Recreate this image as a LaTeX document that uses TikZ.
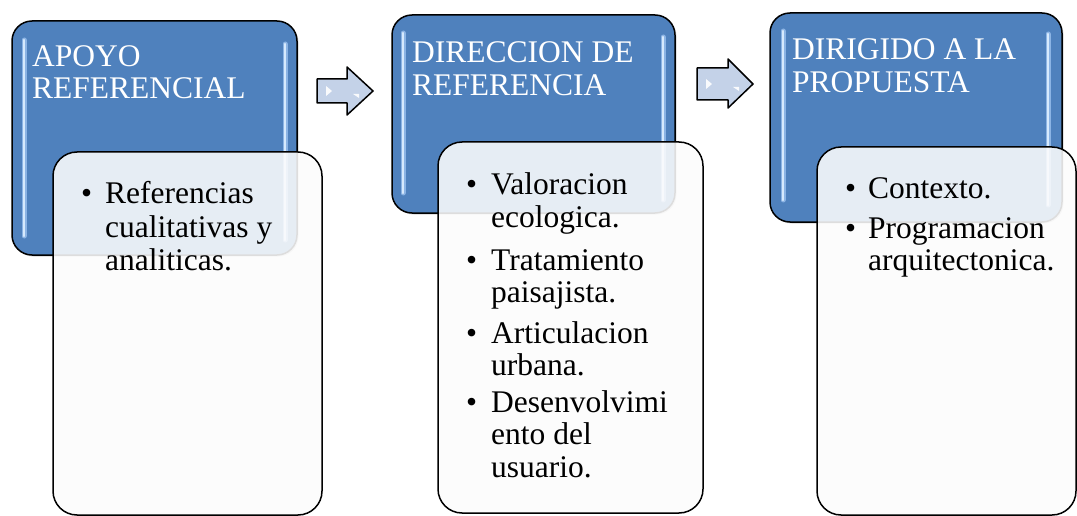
\documentclass[tikz,border=0pt]{standalone}
\usepackage{fontspec}
\setmainfont{Liberation Serif}
\usetikzlibrary{shadows}
\definecolor{hdrblue}{RGB}{79,129,189}
\definecolor{glosscol}{RGB}{215,234,253}
\definecolor{glosshalo}{RGB}{140,180,228}
\definecolor{arrowcol}{RGB}{196,210,232}
\definecolor{bodyfill}{RGB}{252,252,252}
\tikzset{
  hdr/.style={draw=black, line width=1.5pt, fill=hdrblue, rounded corners=20pt, inner sep=0,
    drop shadow={opacity=0.35, shadow xshift=1.5pt, shadow yshift=-1.5pt}},
  bodybox/.style={draw=black, line width=1.5pt, fill=bodyfill, fill opacity=0.88, draw opacity=1, rounded corners=24pt, inner sep=0},
  glosshalo/.style={draw=glosshalo, line width=5pt, line cap=round},
  gloss/.style={draw=glosscol, line width=2.5pt, line cap=round},
  ttl/.style={anchor=base west, text=white, font=\fontsize{31.5}{32}\selectfont, inner sep=0},
  txt/.style={anchor=base west, text=black, font=\fontsize{31.5}{32}\selectfont, inner sep=0},
  blk/.style={draw=black, line width=1.5pt, fill=arrowcol, line join=round},
  hilite/.style={fill=white, draw=none, opacity=0.9}
}
\begin{document}
\begin{tikzpicture}[x=1pt, y=-1pt]
\useasboundingbox (0,0) rectangle (1077,516);
\fill[white] (0,0) rectangle (1077,516);

% ---------- column 1 ----------
\node[hdr, minimum width=285pt, minimum height=234pt] (h1) at (154.5,138) {};
\draw[glosshalo] (24,40) -- (24,236);
\draw[gloss] (24,40) -- (24,236);
\draw[glosshalo] (285,44) -- (285,240);
\draw[gloss] (285,44) -- (285,240);
\node[ttl] (t1a) at (32,67) {APOYO};
\node[ttl] (t1b) at (32,99) {REFERENCIAL};
\node[bodybox, minimum width=269pt, minimum height=363pt] (b1) at (187.5,333.5) {};
\node[txt] (b1d1) at (81,204) {•};
\node[txt] (b1l1) at (105,204) {Referencias};
\node[txt] (b1l2) at (105,237) {cualitativas y};
\node[txt] (b1l3) at (105,270) {analiticas.};

% ---------- column 2 ----------
\node[hdr, minimum width=283pt, minimum height=198pt] (h2) at (533.5,114) {};
\draw[glosshalo] (403,33) -- (403,193);
\draw[gloss] (403,33) -- (403,193);
\draw[glosshalo] (663,37) -- (663,200);
\draw[gloss] (663,37) -- (663,200);
\node[ttl] (t2a) at (412,63) {DIRECCION DE};
\node[ttl] (t2b) at (412,96) {REFERENCIA};
\node[bodybox, minimum width=265pt, minimum height=371pt] (b2) at (570.5,327.5) {};
\node[txt] (b2d1) at (466,195) {•};
\node[txt] (b2l1) at (491,195) {Valoracion};
\node[txt] (b2l2) at (491,227) {ecologica.};
\node[txt] (b2d2) at (466,270) {•};
\node[txt] (b2l3) at (491,270) {Tratamiento};
\node[txt] (b2l4) at (491,302) {paisajista.};
\node[txt] (b2d3) at (466,343) {•};
\node[txt] (b2l5) at (491,343) {Articulacion};
\node[txt] (b2l6) at (491,375) {urbana.};
\node[txt] (b2d4) at (466,412) {•};
\node[txt] (b2l7) at (491,412) {Desenvolvimi};
\node[txt] (b2l8) at (491,444) {ento del};
\node[txt] (b2l9) at (491,477) {usuario.};

% ---------- column 3 ----------
\node[hdr, minimum width=292pt, minimum height=209pt] (h3) at (916,117.5) {};
\draw[glosshalo] (783,31) -- (783,200);
\draw[gloss] (783,31) -- (783,200);
\draw[glosshalo] (1048,34) -- (1048,205);
\draw[gloss] (1048,34) -- (1048,205);
\node[ttl] (t3a) at (792,60) {DIRIGIDO A LA};
\node[ttl] (t3b) at (792,93) {PROPUESTA};
\node[bodybox, minimum width=259pt, minimum height=368pt] (b3) at (946.5,331) {};
\node[txt] (b3d1) at (845,199) {•};
\node[txt] (b3l1) at (868,199) {Contexto.};
\node[txt] (b3d2) at (845,238) {•};
\node[txt] (b3l2) at (868,238) {Programacion};
\node[txt] (b3l3) at (868,270) {arquitectonica.};

% ---------- block arrows ----------
\draw[blk] (317,79) -- (347,79) -- (347,67) -- (373,91) -- (347,115) -- (347,103) -- (317,103) -- cycle;
\fill[hilite] (326,86) -- (332,91) -- (326,96) -- cycle;
\fill[hilite] (353,94) -- (359,94) -- (359,98) -- cycle;
\draw[blk] (697,68) -- (728,68) -- (728,59) -- (753,84) -- (728,108) -- (728,100) -- (697,100) -- cycle;
\fill[hilite] (706,79) -- (712,84) -- (706,89) -- cycle;
\fill[hilite] (733,87) -- (739,87) -- (739,91) -- cycle;
\end{tikzpicture}
\end{document}
